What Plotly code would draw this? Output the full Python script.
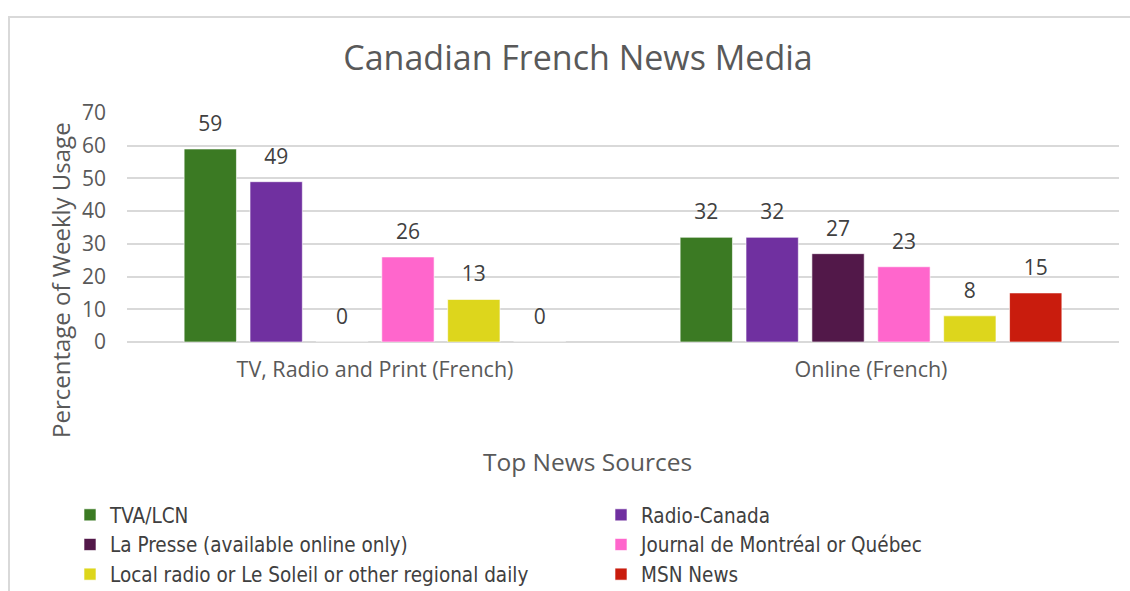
import plotly.graph_objects as go

categories = ["TV, Radio and Print (French)", "Online (French)"]
series_names = [
    "TVA/LCN",
    "Radio-Canada",
    "La Presse (available online only)",
    "Journal de Montréal or Québec",
    "Local radio or Le Soleil or other regional daily",
    "MSN News",
]
tva = [59, 32]
radio_canada = [49, 32]
la_presse = [0, 27]
journal = [26, 23]
local_radio = [13, 8]
msn = [0, 15]
series_values = [tva, radio_canada, la_presse, journal, local_radio, msn]
colors = ["#3b7a23", "#7030a0", "#521849", "#ff66cc", "#ddd61c", "#c91c0d"]
y_ticks = [0, 10, 20, 30, 40, 50, 60, 70]

W, H = 1130, 591
L, R, T, B = 127, 11, 113, 249
pw = W - L - R
ph = H - T - B
FONT = "Open Sans, Liberation Sans, Arial, sans-serif"
LEG_FONT = "DejaVu Sans Condensed, Liberation Sans Narrow, Arial Narrow, sans-serif"


def px_x(px):
    return (px - L) / pw


def px_y(py):
    return (H - B - py) / ph


fig = go.Figure()
for i, (name, vals, col) in enumerate(zip(series_names, series_values, colors)):
    fig.add_trace(go.Bar(
        name=name, x=categories, y=vals, offsetgroup=str(i),
        marker=dict(color=col, line=dict(color="rgba(255,255,255,0.6)", width=1)),
        hoverinfo="x+y+name",
    ))
for i, vals in enumerate(series_values):
    fig.add_trace(go.Scatter(
        x=categories, y=vals, offsetgroup=str(i), mode="markers+text",
        text=[str(v) for v in vals], textposition="top center",
        textfont=dict(family=FONT, size=21, color="#404040"),
        marker=dict(size=19, opacity=0), showlegend=False, hoverinfo="skip",
        cliponaxis=False,
    ))

fig.update_layout(
    width=W, height=H,
    margin=dict(l=L, r=R, t=T, b=B, autoexpand=False),
    paper_bgcolor="white", plot_bgcolor="white",
    barmode="group", bargap=0.203, bargroupgap=0.206,
    scattermode="group", scattergap=0.203,
    title=dict(text="Canadian French News Media", x=578 / W, xanchor="center",
               y=1 - 58 / H, yanchor="middle", xref="container", yref="container",
               font=dict(family=FONT, size=34, color="#595959")),
    font=dict(family=FONT, color="#595959"),
    showlegend=True,
    legend=dict(orientation="h", xref="paper", yref="paper",
                x=px_x(70), xanchor="left", y=px_y(495), yanchor="top",
                entrywidth=486, entrywidthmode="pixels", traceorder="normal",
                font=dict(family=LEG_FONT, size=20.5, color="#404040"),
                bgcolor="rgba(0,0,0,0)"),
    xaxis=dict(showgrid=False, showline=False, ticks="", ticklabelstandoff=12, automargin=False,
               tickfont=dict(family=FONT, size=21.5, color="#595959")),
    yaxis=dict(range=[0, 70], tickvals=y_ticks, showgrid=True, gridcolor="#d9d9d9", gridwidth=1.5,
               zeroline=True, zerolinecolor="#d9d9d9", zerolinewidth=1.5, showline=False,
               automargin=False, ticks="", ticklabelstandoff=20,
               tickfont=dict(family=FONT, size=21, color="#595959")),
    annotations=[
        dict(text="Top News Sources", xref="paper", yref="paper", x=px_x(587), y=px_y(461),
             xanchor="center", yanchor="middle", showarrow=False,
             font=dict(family=FONT, size=24.5, color="#595959")),
        dict(text="Percentage of Weekly Usage", xref="paper", yref="paper", x=px_x(60), y=px_y(280),
             xanchor="center", yanchor="middle", showarrow=False, textangle=-90,
             font=dict(family=FONT, size=24, color="#595959")),
    ],
    shapes=[
        dict(type="rect", xref="paper", yref="paper", x0=px_x(9), x1=px_x(1140),
             y0=px_y(610), y1=px_y(17), line=dict(color="#d9d9d9", width=2),
             fillcolor="rgba(0,0,0,0)", layer="below"),
    ],
)

fig.write_html("out.html")
